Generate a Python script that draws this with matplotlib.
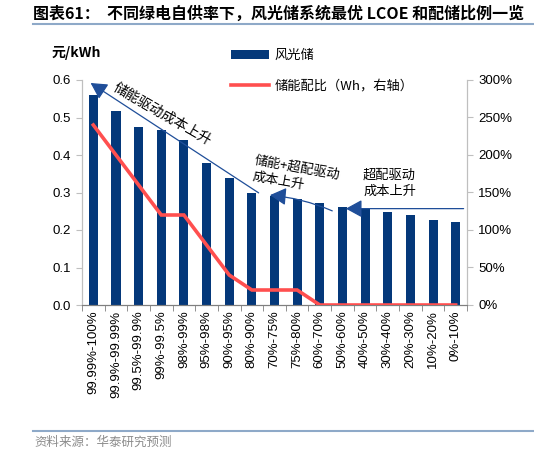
import numpy as np
import matplotlib.pyplot as plt
from matplotlib.lines import Line2D

plt.rcParams['font.family'] = ['Liberation Sans', 'Noto Sans CJK SC', 'DejaVu Sans']
CJK = ['Noto Sans CJK SC', 'DejaVu Sans']

# Data
categories = ["99.99%-100%", "99.9%-99.99%", "99.5%-99.9%", "99%-99.5%", "98%-99%",
              "95%-98%", "90%-95%", "80%-90%", "70%-75%", "75%-80%", "60%-70%",
              "50%-60%", "40%-50%", "30%-40%", "20%-30%", "10%-20%", "0%-10%"]
lcoe = [0.560, 0.517, 0.476, 0.467, 0.439, 0.380, 0.338, 0.298, 0.290, 0.284,
        0.273, 0.261, 0.255, 0.249, 0.240, 0.227, 0.222]
storage_ratio = [240, 200, 160, 120, 120, 80, 40, 20, 20, 20, 0, 0, 0, 0, 0, 0, 0]

title = "图表61：  不同绿电自供率下，风光储系统最优 LCOE 和配储比例一览"
source = "资料来源：华泰研究预测"

bar_color = "#04387A"
line_color = "#FF4F4F"
arrow_color = "#1F4E99"
spine_color = "#BFBFBF"

fig = plt.figure(figsize=(5.34, 4.54), dpi=100)
ax = fig.add_axes([82 / 534, 1 - 305 / 454, 385 / 534, 225 / 454])
ax2 = ax.twinx()

x = np.arange(len(categories))
bars = ax.bar(x, lcoe, width=0.4, color=bar_color, label="风光储", zorder=2)
line, = ax2.plot(x, storage_ratio, color=line_color, lw=2.6, label="储能配比（Wh，右轴）",
                 solid_joinstyle='miter', zorder=3)

ax.set_xlim(-0.5, len(categories) - 0.5)
ax.set_ylim(0, 0.6)
ax.set_yticks(np.arange(0, 0.61, 0.1))
ax.set_yticklabels([f"{v:.1f}" for v in np.arange(0, 0.61, 0.1)], fontsize=9.5)
ax2.set_ylim(0, 300)
ax2.set_yticks(np.arange(0, 301, 50))
ax2.set_yticklabels([f"{v}%" for v in range(0, 301, 50)], fontsize=9.5)

ax.set_xticks(x)
ax.set_xticklabels(categories, rotation=90, fontsize=9.5)
ax.set_xticks(np.arange(-0.5, len(categories), 1), minor=True)
ax.tick_params(axis='x', which='major', length=0, pad=4)
ax.tick_params(axis='x', which='minor', length=4, color="#7F7F7F")
ax.tick_params(axis='y', length=4, color=spine_color, pad=4)
ax2.tick_params(axis='y', length=4, color=spine_color, pad=4)

for a in (ax, ax2):
    a.spines['top'].set_visible(False)
    a.spines['left'].set_color(spine_color)
    a.spines['right'].set_color(spine_color)
    a.spines['bottom'].set_color("#7F7F7F")

# unit label
fig.text(76 / 534, 1 - 53 / 454, "元/kWh", fontsize=10, fontweight='bold',
         ha='center', va='center', family=CJK)

# arrows and annotations
arrow_kw = dict(arrowstyle='-|>,head_length=0.55,head_width=0.3', color=arrow_color,
                lw=0.9, mutation_scale=18, shrinkA=0, shrinkB=0)
ax.annotate("", xy=(-0.12, 0.592), xytext=(7.3, 0.299), arrowprops=arrow_kw, zorder=4)
ax.annotate("", xy=(7.8, 0.293), xytext=(10.55, 0.251),
            arrowprops=dict(arrow_kw, connectionstyle="arc3,rad=0.08"), zorder=4)
ax.annotate("", xy=(11.15, 0.257), xytext=(16.35, 0.257), arrowprops=arrow_kw, zorder=4)

ax.text(3.05, 0.508, "储能驱动成本上升", rotation=-30, rotation_mode='anchor',
        ha='center', va='center', fontsize=10, family=CJK, zorder=5)
ax.text(8.95, 0.345, "储能+超配驱动\n成本上升", rotation=-10, rotation_mode='anchor',
        ha='center', va='center', multialignment='left', fontsize=9.5, linespacing=1.35,
        family=CJK, zorder=5)
ax.text(13.08, 0.325, "超配驱动\n成本上升", ha='center', va='center',
        multialignment='left', fontsize=9.5, linespacing=1.35, family=CJK, zorder=5)

# legend
fig.legend([bars, line], ["风光储", "储能配比（Wh，右轴）"], loc='upper left',
           bbox_to_anchor=(231 / 534, 1 - 49 / 454), frameon=False, borderpad=0,
           borderaxespad=0, labelspacing=1.3, handlelength=2.9, handletextpad=0.4,
           prop={'family': CJK, 'size': 9.5})

# title, source and rules
fig.text(33 / 534, 1 - 14 / 454, title, fontsize=11.5, fontweight='bold',
         ha='left', va='center', family=CJK)
fig.add_artist(Line2D([33 / 534, 1], [1 - 24 / 454] * 2, color="#8EA9C8", lw=1.5))
fig.add_artist(Line2D([33 / 534, 1], [1 - 430.5 / 454] * 2, color="#8EA9C8", lw=1.5))
fig.text(34 / 534, 1 - 442 / 454, source, fontsize=9, color="#8C8C8C",
         ha='left', va='center', family=CJK)

fig.savefig("out.png", dpi=100)
